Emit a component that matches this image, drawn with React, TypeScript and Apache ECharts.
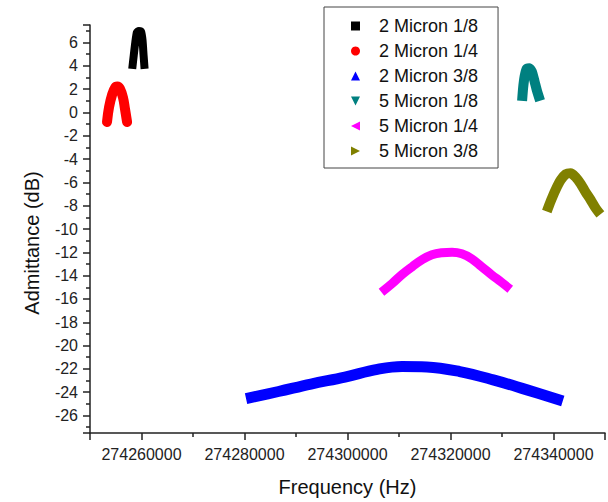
import React, { useEffect, useRef } from "react";
import * as echarts from "echarts";

// ---- data (Hz, dB) ----
const seriesNames = ["2 Micron 1/8", "2 Micron 1/4", "2 Micron 3/8", "5 Micron 1/8", "5 Micron 1/4", "5 Micron 3/8"];
const seriesColors = ["#000000", "#ff0000", "#0000ff", "#008080", "#ff00ff", "#808000"];

const freq2m18 = [274258200, 274258500, 274258800, 274259100, 274259500, 274259900, 274260200, 274260400, 274260600];
const adm2m18 = [3.74, 4.92, 6.02, 6.86, 6.99, 6.95, 6.19, 4.92, 3.74];

const freq2m14 = [274253300, 274253700, 274254300, 274254900, 274255300, 274255800, 274256400, 274256800, 274257200];
const adm2m14 = [-0.82, 0.45, 1.54, 2.14, 2.22, 2.05, 1.29, 0.28, -0.82];

const freq2m38 = [274280300, 274286600, 274292900, 274299500, 274305800, 274310600, 274315400, 274321800, 274328300, 274334700, 274341800];
const adm2m38 = [-24.55, -23.94, -23.3, -22.7, -22.04, -21.79, -21.83, -22.23, -22.94, -23.78, -24.75];

const freq5m18 = [274333900, 274334100, 274334400, 274334800, 274335300, 274335800, 274336300, 274336800, 274337400];
const adm5m18 = [1.0, 2.1, 3.1, 3.75, 3.8, 3.5, 2.7, 1.85, 1.0];

const freq5m14 = [274306600, 274308700, 274310600, 274312600, 274314500, 274316400, 274318300, 274320300, 274322200, 274324100, 274326000, 274327900, 274329900, 274331600];
const adm5m14 = [-15.42, -14.66, -13.9, -13.22, -12.63, -12.21, -12.04, -12.0, -12.13, -12.55, -13.22, -13.9, -14.57, -15.16];

const freq5m38 = [274338700, 274339500, 274340400, 274341400, 274342400, 274343300, 274344300, 274345300, 274346200, 274347200, 274348100, 274349100];
const adm5m38 = [-8.5, -7.57, -6.64, -5.8, -5.29, -5.21, -5.55, -6.14, -6.81, -7.49, -8.16, -8.75];

const freqs = [freq2m18, freq2m14, freq2m38, freq5m18, freq5m14, freq5m38];
const adms = [adm2m18, adm2m14, adm2m38, adm5m18, adm5m14, adm5m38];

const xMin = 274250000;
const xMax = 274350000;
const yMin = -27.5;
const yMax = 7.5;

// ---- styling ----
const FONT = "'Liberation Sans', Arial, sans-serif";
const legendIcons = [
  "rect",
  "circle",
  "triangle",
  "path://M0,0 L10,0 L5,10 Z",
  "path://M10,0 L10,10 L0,5 Z",
  "path://M0,0 L10,5 L0,10 Z",
];
const lineWidths = [8, 10, 11, 10, 9, 10];
const smoothness = [0.2, 0.4, 0.4, 0.15, 0.4, 0.3];
const caps = ["butt", "round", "butt", "butt", "butt", "butt"];

export default function App() {
  const ref = useRef<HTMLDivElement>(null);
  useEffect(() => {
    if (!ref.current) return;
    const chart = echarts.init(ref.current, null, { renderer: "svg" });
    const series = seriesNames.map((name, i) => ({
      name,
      type: "line",
      data: freqs[i].map((f, j) => [f, adms[i][j]]),
      showSymbol: false,
      symbol: "none",
      smooth: smoothness[i],
      color: seriesColors[i],
      lineStyle: { width: lineWidths[i], color: seriesColors[i], cap: caps[i], join: "miter" },
      emphasis: { disabled: true },
      silent: true,
    }));
    chart.setOption({
      animation: false,
      backgroundColor: "#ffffff",
      textStyle: { fontFamily: FONT },
      grid: { left: 90, top: 25, right: -2, bottom: 62, containLabel: false },
      legend: {
        orient: "vertical",
        left: 324,
        top: 7,
        padding: [10, 20, 8, 27],
        itemGap: 7,
        itemWidth: 9,
        itemHeight: 9,
        borderColor: "#444",
        borderWidth: 1,
        backgroundColor: "#ffffff",
        selectedMode: false,
        textStyle: { fontSize: 18, color: "#111", fontFamily: FONT, padding: [0, 0, 0, 14] },
        data: seriesNames.map((n, i) => ({ name: n, icon: legendIcons[i], itemStyle: { color: seriesColors[i] } })),
      },
      xAxis: {
        type: "value",
        min: xMin,
        max: xMax,
        splitNumber: 5,
        minInterval: 20000,
        maxInterval: 20000,
        name: "Frequency (Hz)",
        nameLocation: "middle",
        nameGap: 44,
        nameTextStyle: { fontSize: 20, color: "#111", fontFamily: FONT },
        axisLine: { show: true, onZero: false, lineStyle: { color: "#222", width: 1.5 } },
        axisTick: { show: true, inside: false, length: 7, lineStyle: { color: "#222", width: 1.5 } },
        minorTick: { show: true, splitNumber: 2, length: 4, lineStyle: { color: "#222", width: 1.5 } },
        splitLine: { show: false },
        minorSplitLine: { show: false },
        axisLabel: {
          interval: 0,
          margin: 13,
          fontSize: 16,
          color: "#222",
          fontFamily: FONT,
          formatter: (v: number) => (v <= xMin || v >= xMax ? "" : String(Math.round(v))),
        },
      },
      yAxis: {
        type: "value",
        min: yMin,
        max: yMax,
        splitNumber: 17,
        minInterval: 2,
        maxInterval: 2,
        name: "Admittance (dB)",
        nameLocation: "middle",
        nameGap: 48,
        nameTextStyle: { fontSize: 20, color: "#111", fontFamily: FONT, padding: [0, 28, 0, 0] },
        axisLine: { show: true, onZero: false, lineStyle: { color: "#222", width: 1.5 } },
        axisTick: { show: true, inside: false, length: 7, lineStyle: { color: "#222", width: 1.5 } },
        minorTick: { show: true, splitNumber: 2, length: 4, lineStyle: { color: "#222", width: 1.5 } },
        splitLine: { show: false },
        minorSplitLine: { show: false },
        axisLabel: {
          margin: 12,
          fontSize: 16,
          color: "#222",
          fontFamily: FONT,
          formatter: (v: number) => (Math.abs(v - Math.round(v)) > 1e-6 ? "" : String(Math.round(v))),
        },
      },
      series,
    });
    return () => chart.dispose();
  }, []);
  return <div ref={ref} style={{ position: "absolute", left: 0, top: 0, width: 608, height: 502 }} />;
}
